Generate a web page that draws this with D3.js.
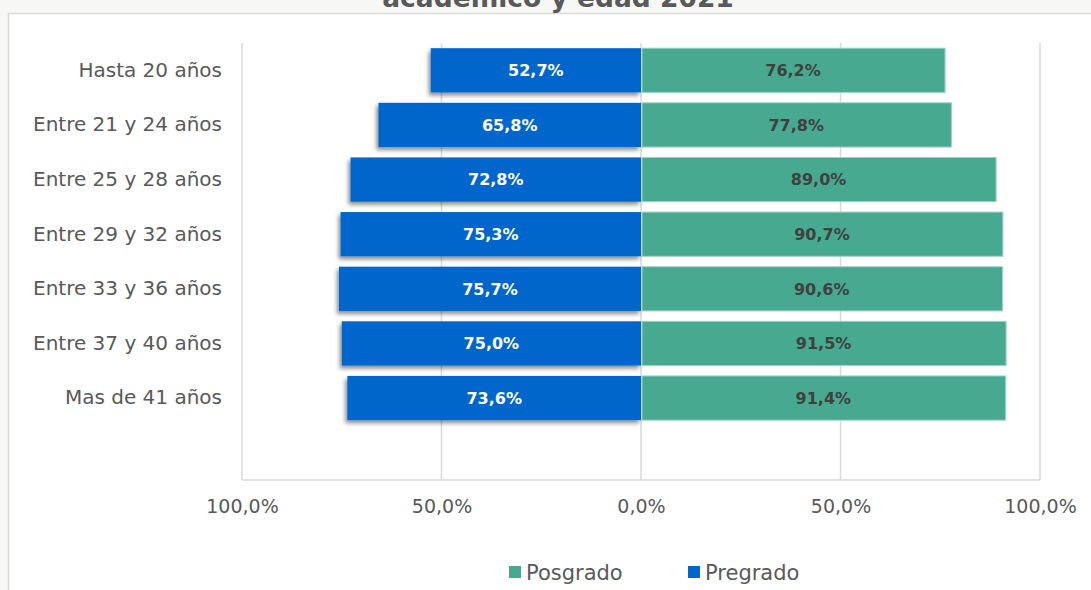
<!DOCTYPE html>
<html>
<head>
<meta charset="utf-8">
<script src="https://cdn.jsdelivr.net/npm/d3@7"></script>
<style>
  body { margin: 0; background: #f7f7f6; }
  svg { display: block; font-family: "DejaVu Sans", sans-serif; }
</style>
</head>
<body>
<div id="chart"></div>
<script>
// Data
const categories = ['Hasta 20 años', 'Entre 21 y 24 años', 'Entre 25 y 28 años', 'Entre 29 y 32 años',
    'Entre 33 y 36 años', 'Entre 37 y 40 años', 'Mas de 41 años'];
const pregrado = [52.7, 65.8, 72.8, 75.3, 75.7, 75.0, 73.6];
const posgrado = [76.2, 77.8, 89.0, 90.7, 90.6, 91.5, 91.4];
const ticks = [-100, -50, 0, 50, 100];
const seriesNames = ['Posgrado', 'Pregrado'];
const colors = {Posgrado: '#47aa90', Pregrado: '#0066cc'};

const width = 1091, height = 590;
const fontFamily = '"DejaVu Sans", sans-serif';
const fmt = v => d3.format('.1f')(Math.abs(v)).replace('.', ',') + '%';

const svg = d3.select('#chart')
    .append('svg')
    .attr('width', width)
    .attr('height', height);

// shadow for the blue bars
const defs = svg.append('defs');
const filter = defs.append('filter')
    .attr('id', 'shadow')
    .attr('x', '-10%').attr('y', '-20%')
    .attr('width', '120%').attr('height', '160%');
filter.append('feDropShadow')
    .attr('dx', -2).attr('dy', 3)
    .attr('stdDeviation', 2)
    .attr('flood-color', '#000')
    .attr('flood-opacity', 0.45);

// chart area (white box with border, title cut off above)
svg.append('rect')
    .attr('x', 8.5).attr('y', 13.5)
    .attr('width', width + 10).attr('height', height + 10)
    .attr('fill', '#fff')
    .attr('stroke', '#d9d9d9')
    .attr('stroke-width', 1.5);

svg.append('text')
    .attr('x', 558).attr('y', 7)
    .attr('text-anchor', 'middle')
    .attr('font-size', 26.5)
    .attr('font-weight', 'bold')
    .attr('fill', '#595959')
    .text('académico y edad 2021');

const x = d3.scaleLinear()
    .domain([-100, 100])
    .range([242, 1040]);

const plotTop = 43, plotBottom = 480;
const step = (plotBottom - plotTop) / (categories.length + 1);
const y = d3.scaleBand()
    .domain(categories)
    .range([plotTop, plotTop + step * categories.length])
    .paddingInner(0.19)
    .paddingOuter(0.095);

// gridlines
svg.append('g')
    .selectAll('line')
    .data(ticks)
    .enter()
    .append('line')
    .attr('x1', d => x(d)).attr('x2', d => x(d))
    .attr('y1', plotTop).attr('y2', plotBottom)
    .attr('stroke', '#d9d9d9')
    .attr('stroke-width', 1.5);

svg.append('line')
    .attr('x1', x(-100)).attr('x2', x(100))
    .attr('y1', plotBottom).attr('y2', plotBottom)
    .attr('stroke', '#d9d9d9')
    .attr('stroke-width', 1.5);

// x axis labels
const xAxis = svg.append('g')
    .attr('transform', `translate(0,${plotBottom})`)
    .call(d3.axisBottom(x).tickValues(ticks).tickFormat(fmt).tickSize(0).tickPadding(20));
xAxis.select('.domain').remove();
xAxis.selectAll('text')
    .attr('font-family', fontFamily)
    .attr('font-size', 19)
    .attr('fill', '#595959');

// y axis labels
const yAxis = svg.append('g')
    .attr('transform', `translate(${x(-100) - 20},0)`)
    .call(d3.axisLeft(y).tickSize(0).tickPadding(0));
yAxis.select('.domain').remove();
yAxis.selectAll('text')
    .attr('font-family', fontFamily)
    .attr('font-size', 20)
    .attr('fill', '#595959');

const rows = categories.map((c, i) => ({cat: c, pre: pregrado[i], pos: posgrado[i]}));

// Pregrado bars (left)
svg.append('g')
    .selectAll('rect')
    .data(rows)
    .enter()
    .append('rect')
    .attr('x', d => x(-d.pre))
    .attr('y', d => y(d.cat))
    .attr('width', d => x(0) - x(-d.pre))
    .attr('height', y.bandwidth())
    .attr('fill', colors.Pregrado)
    .attr('filter', 'url(#shadow)');

// Posgrado bars (right)
svg.append('g')
    .selectAll('rect')
    .data(rows)
    .enter()
    .append('rect')
    .attr('x', x(0) + 1)
    .attr('y', d => y(d.cat))
    .attr('width', d => x(d.pos) - x(0) - 1)
    .attr('height', y.bandwidth())
    .attr('fill', colors.Posgrado)
    .attr('stroke', '#9fd3c4')
    .attr('stroke-width', 1);

// value labels
svg.append('g')
    .selectAll('text')
    .data(rows)
    .enter()
    .append('text')
    .attr('x', d => (x(-d.pre) + x(0)) / 2)
    .attr('y', d => y(d.cat) + y.bandwidth() / 2)
    .attr('dy', '0.36em')
    .attr('text-anchor', 'middle')
    .attr('font-size', 16)
    .attr('font-weight', 'bold')
    .attr('fill', '#fff')
    .text(d => fmt(d.pre));

svg.append('g')
    .selectAll('text')
    .data(rows)
    .enter()
    .append('text')
    .attr('x', d => (x(d.pos) + x(0)) / 2)
    .attr('y', d => y(d.cat) + y.bandwidth() / 2)
    .attr('dy', '0.36em')
    .attr('text-anchor', 'middle')
    .attr('font-size', 16)
    .attr('font-weight', 'bold')
    .attr('fill', '#404040')
    .text(d => fmt(d.pos));

// legend
const legendX = [509, 688];
const legend = svg.append('g')
    .selectAll('g')
    .data(seriesNames)
    .enter()
    .append('g')
    .attr('transform', (d, i) => `translate(${legendX[i]},566)`);
legend.append('rect')
    .attr('width', 12).attr('height', 12)
    .attr('fill', d => colors[d]);
legend.append('text')
    .attr('x', 17).attr('y', 6)
    .attr('dy', '0.36em')
    .attr('font-size', 21)
    .attr('fill', '#595959')
    .text(d => d);
</script>
</body>
</html>
